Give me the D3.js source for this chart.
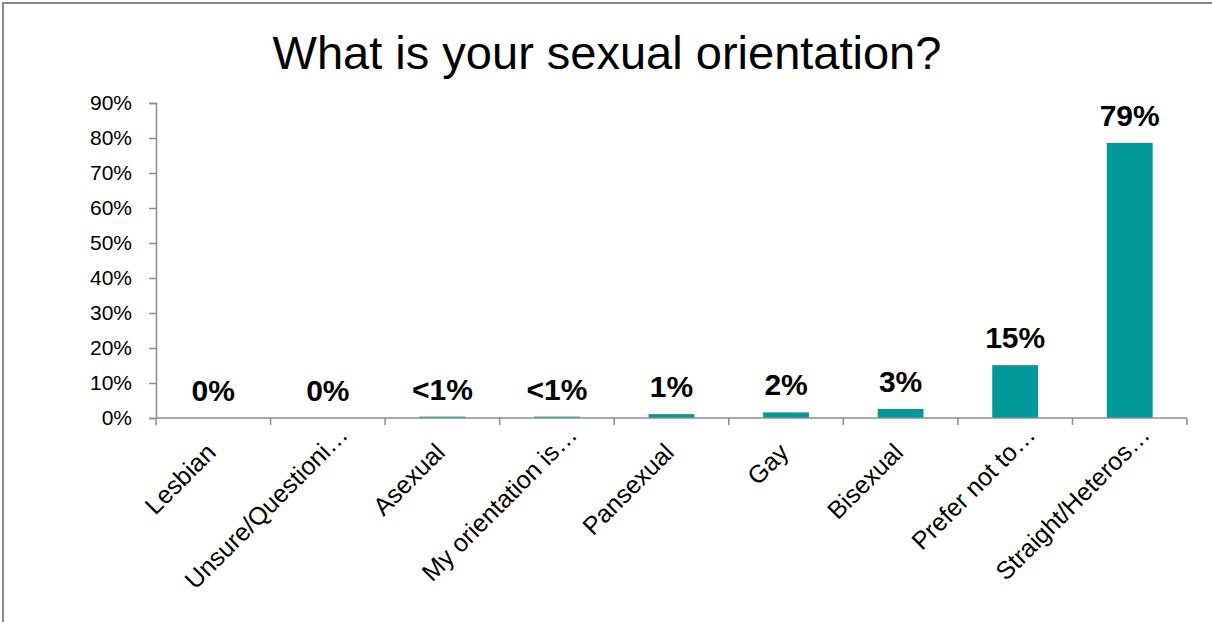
<!DOCTYPE html>
<html>
<head>
<meta charset="utf-8">
<script src="https://cdn.jsdelivr.net/npm/d3@7"></script>
<style>
  html, body { margin: 0; padding: 0; background: #fff; }
  svg { display: block; font-family: "Liberation Sans", Arial, sans-serif; }
</style>
</head>
<body>
<svg id="chart" width="1212" height="622"></svg>
<script>
// Survey responses: share of respondents per orientation (percent)
const categories = [
  "Lesbian", "Unsure/Questioni\u2026", "Asexual", "My orientation is\u2026",
  "Pansexual", "Gay", "Bisexual", "Prefer not to\u2026", "Straight/Heteros\u2026"
];
const values = [0, 0, 0.4, 0.4, 1.1, 1.6, 2.6, 15.1, 78.6];
const yTicks = [0, 10, 20, 30, 40, 50, 60, 70, 80, 90];
const title = "What is your sexual orientation?";

const svg = d3.select("#chart");
const W = 1212, H = 622;

// outer frame
svg.append("rect")
  .attr("x", 3).attr("y", 3)
  .attr("width", W + 10).attr("height", H + 10)
  .attr("fill", "#fff")
  .attr("stroke", "#8a8a8a").attr("stroke-width", 2);

const plot = { left: 156, right: 1187, top: 103, bottom: 418 };

const x = d3.scaleBand()
  .domain(categories)
  .range([plot.left, plot.right])
  .paddingInner(0.6)
  .paddingOuter(0.3);

const y = d3.scaleLinear()
  .domain([0, 90])
  .range([plot.bottom, plot.top]);

// title
svg.append("text")
  .attr("x", 607).attr("y", 69)
  .attr("text-anchor", "middle")
  .attr("font-size", 47)
  .attr("fill", "#000")
  .text(title);

// bars
svg.append("g").selectAll("rect")
  .data(values)
  .join("rect")
  .attr("x", (d, i) => x(categories[i]))
  .attr("width", x.bandwidth())
  .attr("y", d => y(d))
  .attr("height", d => y(0) - y(d))
  .attr("fill", "#009999");

// y axis
const yAxis = svg.append("g")
  .attr("transform", `translate(${plot.left},0)`)
  .call(d3.axisLeft(y).tickValues(yTicks).tickSize(7).tickPadding(17)
    .tickFormat(d => d + "%"));
yAxis.select(".domain").attr("stroke", "#8c8c8c").attr("stroke-width", 1.5);
yAxis.selectAll(".tick line").attr("stroke", "#8c8c8c").attr("stroke-width", 1.5);
yAxis.selectAll(".tick text")
  .attr("font-size", 21)
  .attr("fill", "#000")
  .attr("font-family", "Liberation Sans, Arial, sans-serif");

// x axis: ticks on category boundaries
const bounds = d3.range(categories.length + 1)
  .map(i => plot.left + i * (plot.right - plot.left) / categories.length);
const xAxisG = svg.append("g");
xAxisG.append("line")
  .attr("x1", plot.left).attr("x2", plot.right)
  .attr("y1", plot.bottom).attr("y2", plot.bottom)
  .attr("stroke", "#8c8c8c").attr("stroke-width", 1.5);
xAxisG.selectAll("line.tick")
  .data(bounds)
  .join("line")
  .attr("class", "tick")
  .attr("x1", d => d).attr("x2", d => d)
  .attr("y1", plot.bottom).attr("y2", plot.bottom + 7)
  .attr("stroke", "#8c8c8c").attr("stroke-width", 1.5);

// category labels, rotated; a trailing ellipsis hangs past the anchor point
const ELL = "\u2026";
const labelG = xAxisG.selectAll("g.lab")
  .data(categories)
  .join("g")
  .attr("class", "lab")
  .attr("transform", d => `translate(${x(d) + x.bandwidth() / 2 + 4},${plot.bottom + 36}) rotate(-45)`);
labelG.append("text")
  .attr("text-anchor", "end")
  .attr("font-size", 25)
  .attr("fill", "#000")
  .text(d => d.endsWith(ELL) ? d.slice(0, -1) : d);
labelG.filter(d => d.endsWith(ELL)).append("text")
  .attr("text-anchor", "start")
  .attr("font-size", 25)
  .attr("fill", "#000")
  .text(ELL);

// value labels
function fmt(v) {
  if (v === 0) return "0%";
  if (v < 1) return "<1%";
  return Math.round(v) + "%";
}
svg.append("g").selectAll("text")
  .data(values)
  .join("text")
  .attr("x", (d, i) => x(categories[i]) + x.bandwidth() / 2)
  .attr("y", d => y(d) - 17)
  .attr("text-anchor", "middle")
  .attr("font-size", 30)
  .attr("font-weight", "bold")
  .attr("fill", "#000")
  .text(d => fmt(d));
</script>
</body>
</html>
